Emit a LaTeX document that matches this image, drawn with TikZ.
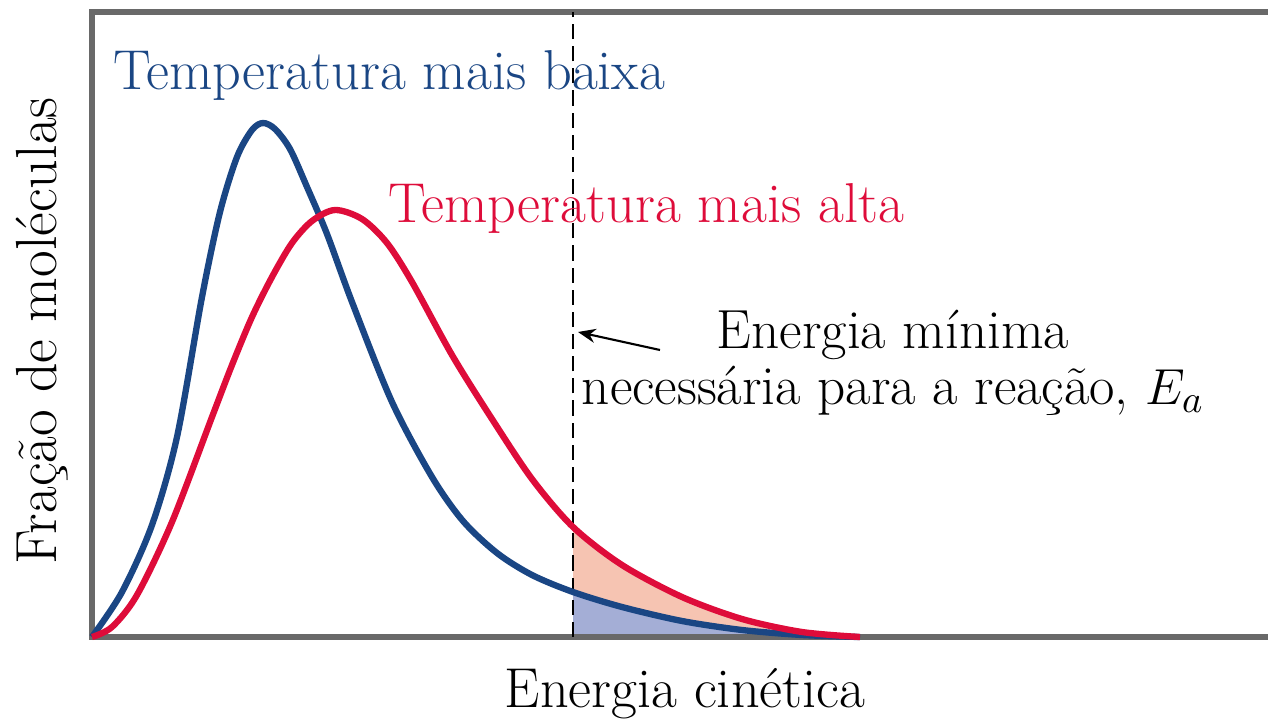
\documentclass[tikz,border=0pt]{standalone}
\usepackage{tikz}
\usetikzlibrary{arrows.meta}
\definecolor{frio}{RGB}{26,70,132}
\definecolor{quente}{RGB}{222,12,58}
\definecolor{rosado}{RGB}{246,196,178}
\definecolor{lilas}{RGB}{164,174,214}
\definecolor{eixo}{RGB}{105,105,105}
\def\curvabaixa{plot[smooth] coordinates {(0,0) (0.3,0.45) (0.6,1.12) (0.85,2.0) (1.1,3.4) (1.28,4.25) (1.45,4.8) (1.6,5.07) (1.71,5.14) (1.83,5.08) (1.98,4.88) (2.15,4.5) (2.35,4.03) (2.6,3.35) (3.0,2.35) (3.4,1.6) (3.71,1.16) (4.05,0.84) (4.4,0.62) (4.81,0.45) (5.3,0.3) (5.9,0.16) (6.5,0.07) (7.1,0.02) (7.68,0)}}
\def\curvaalta{plot[smooth] coordinates {(0,0) (0.2,0.1) (0.45,0.42) (0.8,1.15) (1.2,2.2) (1.4,2.72) (1.6,3.2) (1.8,3.6) (2.0,3.94) (2.2,4.16) (2.43,4.27) (2.7,4.18) (2.95,3.94) (3.2,3.55) (3.6,2.82) (4.0,2.18) (4.4,1.58) (4.81,1.10) (5.3,0.72) (5.9,0.40) (6.5,0.18) (7.1,0.05) (7.68,0)}}

\begin{document}
\begin{tikzpicture}[font=\fontsize{16}{16.2}\selectfont]
\useasboundingbox (-.92,-.85) rectangle (11.76,6.37);
% areas acima de Ea
\begin{scope}
\clip (4.81,0) rectangle (8,5);
\fill[rosado] \curvaalta -- cycle;
\fill[lilas] \curvabaixa -- cycle;
\end{scope}
% eixos
\draw[eixo, line width=1.5pt] (11.76,6.25) -- (0,6.25) -- (0,0) -- (11.76,0);
\draw[dash pattern=on 4.3pt off 2pt, line width=.6pt] (4.81,0) -- (4.81,6.25);
% curvas
\draw[frio, line width=1.8pt] \curvabaixa;
\draw[quente, line width=1.8pt] \curvaalta;
% textos
\node[frio, anchor=base west] (baixa) at (0.09,5.47) {Temperatura mais baixa};
\node[quente, anchor=base west] (alta) at (2.84,4.14) {Temperatura mais alta};
\node[align=center, anchor=base, font=\fontsize{15.7}{16.2}\selectfont] (Ea) at (8.01,2.32) {Energia mínima\\necessária para a reação, $E_a$};
\node[anchor=base] (xlab) at (5.93,-0.70) {Energia cinética};
\node[rotate=90, anchor=base, font=\fontsize{16.5}{17}\selectfont] (ylab) at (-0.35,3.06) {Fração de moléculas};
\coordinate (seta) at (5.68,2.87);
\coordinate (alvo) at (4.86,3.05);
\draw[-{Stealth[length=5pt,width=4pt]}, line width=.6pt] (seta) -- (alvo);
\end{tikzpicture}
\end{document}
